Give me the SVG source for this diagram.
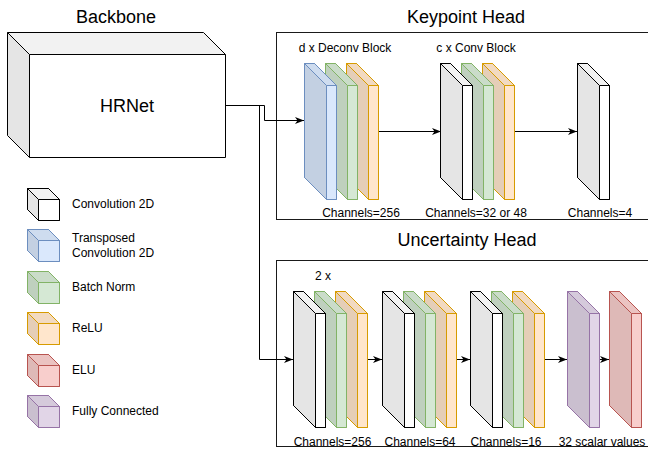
<svg xmlns="http://www.w3.org/2000/svg" xmlns:xlink="http://www.w3.org/1999/xlink" width="648" height="450" viewBox="0 0 648 450">
  <style>
    text { font-family: "Liberation Sans", Arial, Helvetica, sans-serif; fill: #000; }
    .title { font-size: 18px; text-anchor: middle; }
    .lbl { font-size: 12px; }
    .mid { text-anchor: middle; }
    .frame { fill: none; stroke: #1a1a1a; stroke-width: 1; }
    .wire { fill: none; stroke: #000; stroke-width: 1; }
    .arrow { marker-end: url(#head); }
    .conv { fill: #ffffff; stroke: #000000; }
    .tconv { fill: #dae8fc; stroke: #6c8ebf; }
    .bn { fill: #d5e8d4; stroke: #82b366; }
    .relu { fill: #ffe6cc; stroke: #d79b00; }
    .elu { fill: #f8cecc; stroke: #b85450; }
    .fc { fill: #e1d5e7; stroke: #9673a6; }
  </style>
  <defs>
    <marker id="head" markerUnits="userSpaceOnUse" markerWidth="10" markerHeight="8" refX="9" refY="4" orient="auto">
      <path d="M0,0.5 L9,4 L0,7.5 L2.5,4 Z" fill="#000" stroke="none"/>
    </marker>
    <!-- thin layer slab: 32 wide, 136 tall, 22 deep -->
    <g id="slab">
      <path d="M0,0H10L32,22V136H22L0,114Z" stroke-width="1"/>
      <path d="M0,0L22,22V136L0,114Z" fill="#000" fill-opacity="0.1" stroke="none"/>
      <path d="M0,0H10L32,22H22Z" fill="#000" fill-opacity="0.05" stroke="none"/>
      <path d="M0,0H10L32,22V136H22L0,114Z" fill="none" stroke-width="1"/>
      <path d="M22,136V22L0,0M22,22H32" fill="none" stroke-width="1"/>
    </g>
    <!-- small legend cube: 32 x 32, 11 deep -->
    <g id="cube">
      <path d="M0,0H21L32,11V32H11L0,21Z" stroke-width="1"/>
      <path d="M0,0L11,11V32L0,21Z" fill="#000" fill-opacity="0.1" stroke="none"/>
      <path d="M0,0H21L32,11H11Z" fill="#000" fill-opacity="0.05" stroke="none"/>
      <path d="M0,0H21L32,11V32H11L0,21Z" fill="none" stroke-width="1"/>
      <path d="M11,32V11L0,0M11,11H32" fill="none" stroke-width="1"/>
    </g>
  </defs>

  <!-- section titles -->
  <text class="title" x="116" y="23">Backbone</text>
  <text class="title" x="466" y="23">Keypoint Head</text>
  <text class="title" x="467" y="246">Uncertainty Head</text>

  <!-- head containers -->
  <rect id="keypoint-head" class="frame" x="276.5" y="32.5" width="400" height="187"/>
  <rect id="uncertainty-head" class="frame" x="276.5" y="260.5" width="400" height="186"/>

  <!-- backbone -->
  <g id="hrnet">
    <path d="M7.5,32.5H203.5L225.5,54.5V157.5H29.5L7.5,135.5Z" fill="#ffffff" stroke="none"/>
    <path d="M7.5,32.5L29.5,54.5V157.5L7.5,135.5Z" fill="#000" fill-opacity="0.1"/>
    <path d="M7.5,32.5H203.5L225.5,54.5H29.5Z" fill="#000" fill-opacity="0.05"/>
    <path d="M7.5,32.5H203.5L225.5,54.5V157.5H29.5L7.5,135.5Z M29.5,157.5V54.5L7.5,32.5 M29.5,54.5H225.5" fill="none" stroke="#000" stroke-width="1"/>
    <text class="title" x="127" y="112">HRNet</text>
  </g>

  <!-- connectors -->
  <g id="connectors">
    <path class="wire arrow" d="M225.5,105.5H264.5V120.5H304"/>
    <path class="wire arrow" d="M225.5,105.5H259.5V359.5H293"/>
    <path class="wire arrow" d="M378.5,131.5H441"/>
    <path class="wire arrow" d="M513.5,131.5H577"/>
    <path class="wire arrow" d="M367.5,359.5H382"/>
    <path class="wire arrow" d="M455.5,359.5H470"/>
    <path class="wire arrow" d="M544.5,359.5H567"/>
    <path class="wire arrow" d="M599.5,359.5H609"/>
  </g>

  <!-- keypoint head: deconv block -->
  <g id="kp-deconv-relu"><use xlink:href="#slab" class="relu" transform="translate(346.5,63.5)"/></g>
  <g id="kp-deconv-bn"><use xlink:href="#slab" class="bn" transform="translate(325.5,63.5)"/></g>
  <g id="kp-deconv"><use xlink:href="#slab" class="tconv" transform="translate(304.5,63.5)"/></g>
  <!-- keypoint head: conv block -->
  <g id="kp-conv-relu"><use xlink:href="#slab" class="relu" transform="translate(482.5,63.5)"/></g>
  <g id="kp-conv-bn"><use xlink:href="#slab" class="bn" transform="translate(461.5,63.5)"/></g>
  <g id="kp-conv"><use xlink:href="#slab" class="conv" transform="translate(440.5,63.5)"/></g>
  <!-- keypoint head: output conv -->
  <g id="kp-out"><use xlink:href="#slab" class="conv" transform="translate(577.5,63.5)"/></g>

  <text class="lbl mid" x="345" y="52">d x Deconv Block</text>
  <text class="lbl mid" x="476" y="52">c x Conv Block</text>
  <text class="lbl mid" x="361" y="217">Channels=256</text>
  <text class="lbl mid" x="476" y="217">Channels=32 or 48</text>
  <text class="lbl mid" x="600" y="217">Channels=4</text>

  <!-- uncertainty head blocks -->
  <g id="uh-relu-1"><use xlink:href="#slab" class="relu" transform="translate(335.5,291.5)"/></g>
  <g id="uh-bn-1"><use xlink:href="#slab" class="bn" transform="translate(314.5,291.5)"/></g>
  <g id="uh-conv-1"><use xlink:href="#slab" class="conv" transform="translate(293.5,291.5)"/></g>

  <g id="uh-relu-2"><use xlink:href="#slab" class="relu" transform="translate(424.5,291.5)"/></g>
  <g id="uh-bn-2"><use xlink:href="#slab" class="bn" transform="translate(403.5,291.5)"/></g>
  <g id="uh-conv-2"><use xlink:href="#slab" class="conv" transform="translate(382.5,291.5)"/></g>

  <g id="uh-relu-3"><use xlink:href="#slab" class="relu" transform="translate(512.5,291.5)"/></g>
  <g id="uh-bn-3"><use xlink:href="#slab" class="bn" transform="translate(491.5,291.5)"/></g>
  <g id="uh-conv-3"><use xlink:href="#slab" class="conv" transform="translate(470.5,291.5)"/></g>

  <g id="uh-fc"><use xlink:href="#slab" class="fc" transform="translate(567.5,291.5)"/></g>
  <g id="uh-elu"><use xlink:href="#slab" class="elu" transform="translate(609.5,291.5)"/></g>

  <text class="lbl" x="315" y="280">2 x</text>
  <text class="lbl mid" x="332.5" y="446">Channels=256</text>
  <text class="lbl mid" x="420" y="446">Channels=64</text>
  <text class="lbl mid" x="506" y="446">Channels=16</text>
  <text class="lbl mid" x="602" y="446">32 scalar values</text>

  <!-- legend -->
  <g id="legend-conv"><use xlink:href="#cube" class="conv" transform="translate(27.5,188.5)"/><text class="lbl" x="72" y="208">Convolution 2D</text></g>
  <g id="legend-tconv"><use xlink:href="#cube" class="tconv" transform="translate(27.5,229.5)"/><text class="lbl" x="72" y="242">Transposed</text><text class="lbl" x="72" y="257">Convolution 2D</text></g>
  <g id="legend-bn"><use xlink:href="#cube" class="bn" transform="translate(27.5,271.5)"/><text class="lbl" x="72" y="291">Batch Norm</text></g>
  <g id="legend-relu"><use xlink:href="#cube" class="relu" transform="translate(27.5,312.5)"/><text class="lbl" x="72" y="332">ReLU</text></g>
  <g id="legend-elu"><use xlink:href="#cube" class="elu" transform="translate(27.5,354.5)"/><text class="lbl" x="72" y="374">ELU</text></g>
  <g id="legend-fc"><use xlink:href="#cube" class="fc" transform="translate(27.5,395.5)"/><text class="lbl" x="72" y="415">Fully Connected</text></g>
</svg>
